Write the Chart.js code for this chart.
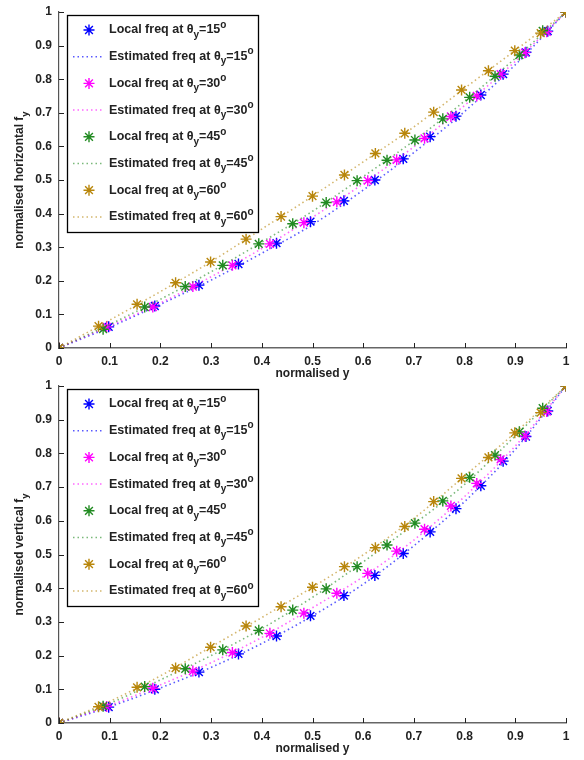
<!DOCTYPE html>
<html>
<head>
<meta charset="utf-8">
<script src="https://cdn.jsdelivr.net/npm/chart.js@4.4.0/dist/chart.umd.min.js"></script>
<style>
  body { margin: 0; background: #fff; }
  #wrap { position: relative; width: 584px; height: 760px; }
  canvas { position: absolute; left: 0; }
</style>
</head>
<body>
<div id="wrap">
  <canvas id="g1" width="584" height="382" style="top:0"></canvas>
  <canvas id="g2" width="584" height="390" style="top:370px"></canvas>
</div>
<script>
// angles of the series
var angles = ['15', '30', '45', '60'];
var colors = ['#0000ff', '#ff00ff', '#228b22', '#b8860b'];
var estColors = ['rgba(0,0,255,0.65)', 'rgba(255,0,255,0.6)', 'rgba(34,139,34,0.6)', 'rgba(184,134,11,0.6)'];

// x positions of the local freq points (normalised y), same for both plots
var x15 = [0, 0.098, 0.189, 0.276, 0.354, 0.429, 0.496, 0.562, 0.623, 0.679, 0.732, 0.783, 0.832, 0.876, 0.921, 0.964, 1];
var x30 = [0, 0.094, 0.185, 0.264, 0.342, 0.416, 0.483, 0.548, 0.609, 0.666, 0.721, 0.773, 0.824, 0.871, 0.919, 0.962, 1];
var x45 = [0, 0.087, 0.169, 0.249, 0.323, 0.394, 0.461, 0.527, 0.588, 0.647, 0.702, 0.757, 0.810, 0.860, 0.908, 0.954, 1];
var x60 = [0, 0.078, 0.154, 0.230, 0.299, 0.369, 0.438, 0.500, 0.563, 0.624, 0.682, 0.739, 0.794, 0.847, 0.899, 0.950, 1];

// top plot: normalised horizontal f_y
var h15 = [0, 0.063, 0.125, 0.187, 0.250, 0.312, 0.376, 0.438, 0.500, 0.563, 0.629, 0.690, 0.753, 0.815, 0.880, 0.943, 1];
var h30 = [0, 0.063, 0.122, 0.183, 0.246, 0.310, 0.373, 0.435, 0.498, 0.560, 0.624, 0.689, 0.750, 0.815, 0.879, 0.941, 1];
var h45 = [0, 0.056, 0.122, 0.183, 0.246, 0.310, 0.370, 0.433, 0.498, 0.559, 0.619, 0.682, 0.746, 0.809, 0.872, 0.944, 1];
var h60 = [0, 0.065, 0.130, 0.194, 0.256, 0.324, 0.391, 0.452, 0.515, 0.579, 0.639, 0.702, 0.768, 0.825, 0.885, 0.937, 1];

// bottom plot: normalised vertical f_y
var v15 = [0, 0.047, 0.100, 0.151, 0.205, 0.258, 0.318, 0.378, 0.438, 0.503, 0.567, 0.636, 0.704, 0.777, 0.850, 0.926, 1];
var v30 = [0, 0.049, 0.103, 0.154, 0.209, 0.266, 0.326, 0.385, 0.444, 0.510, 0.575, 0.644, 0.711, 0.782, 0.852, 0.924, 1];
var v45 = [0, 0.050, 0.108, 0.161, 0.217, 0.275, 0.335, 0.398, 0.464, 0.528, 0.593, 0.659, 0.729, 0.795, 0.864, 0.934, 1];
var v60 = [0, 0.048, 0.106, 0.163, 0.225, 0.288, 0.345, 0.403, 0.464, 0.520, 0.583, 0.657, 0.726, 0.788, 0.861, 0.921, 1];

// estimated freq curves, read at these x
var estX = [0, 0.1, 0.2, 0.3, 0.4, 0.5, 0.6, 0.7, 0.8, 0.9, 1];
var eh15 = [0, 0.062, 0.130, 0.202, 0.282, 0.367, 0.470, 0.582, 0.704, 0.843, 1];
var eh30 = [0, 0.066, 0.134, 0.212, 0.296, 0.389, 0.489, 0.599, 0.722, 0.853, 1];
var eh45 = [0, 0.070, 0.145, 0.227, 0.315, 0.407, 0.510, 0.617, 0.735, 0.862, 1];
var eh60 = [0, 0.083, 0.168, 0.257, 0.354, 0.452, 0.554, 0.658, 0.773, 0.886, 1];
var ev15 = [0, 0.048, 0.104, 0.165, 0.236, 0.318, 0.412, 0.526, 0.657, 0.812, 1];
var ev30 = [0, 0.052, 0.113, 0.179, 0.254, 0.342, 0.434, 0.543, 0.672, 0.822, 1];
var ev45 = [0, 0.058, 0.128, 0.200, 0.280, 0.373, 0.478, 0.590, 0.708, 0.852, 1];
var ev60 = [0, 0.064, 0.140, 0.226, 0.313, 0.403, 0.499, 0.607, 0.733, 0.862, 1];

var FONT = '"Liberation Sans", Arial, Helvetica, sans-serif';
Chart.defaults.font.family = FONT;

function pts(xs, ys) {
    return xs.map(function(x, j) { return {x: x, y: ys[j]}; });
}

// text with sub/superscript pieces
function setFont(ctx, p, size) {
    ctx.font = 'bold ' + (p.s ? size - 2.5 : size) + 'px ' + FONT;
}
function richWidth(ctx, parts, size) {
    var w = 0;
    parts.forEach(function(p) {
        setFont(ctx, p, size);
        w += ctx.measureText(p.t).width;
    });
    return w;
}
function drawRich(ctx, x, y, parts, size) {
    parts.forEach(function(p) {
        setFont(ctx, p, size);
        var dy = p.s === 'sub' ? 5 : (p.s === 'sup' ? -5 : 0);
        ctx.fillText(p.t, x, y + dy);
        x += ctx.measureText(p.t).width;
    });
}

function drawStar(ctx, x, y, r, color) {
    ctx.save();
    ctx.strokeStyle = color;
    ctx.lineWidth = 1.4;
    ctx.beginPath();
    for (var k = 0; k < 4; k++) {
        var a = k * Math.PI / 4;
        ctx.moveTo(x - r * Math.cos(a), y - r * Math.sin(a));
        ctx.lineTo(x + r * Math.cos(a), y + r * Math.sin(a));
    }
    ctx.stroke();
    ctx.restore();
}

var decor = {
    id: 'decor',
    afterDraw: function(chart, args, opts) {
        var ctx = chart.ctx, ca = chart.chartArea;
        var xs = chart.scales.x, ys = chart.scales.y;
        ctx.save();
        // inward ticks
        ctx.strokeStyle = '#222';
        ctx.lineWidth = 1;
        ctx.beginPath();
        xs.ticks.forEach(function(t) {
            var p = Math.round(xs.getPixelForValue(t.value)) + 0.5;
            ctx.moveTo(p, ca.bottom);
            ctx.lineTo(p, ca.bottom - 5);
        });
        ys.ticks.forEach(function(t) {
            var p = Math.round(ys.getPixelForValue(t.value)) + 0.5;
            ctx.moveTo(ca.left, p);
            ctx.lineTo(ca.left + 5, p);
        });
        ctx.stroke();

        // axis titles
        ctx.fillStyle = '#222';
        ctx.textBaseline = 'middle';
        ctx.textAlign = 'left';
        var xt = [{t: 'normalised y'}];
        drawRich(ctx, (ca.left + ca.right) / 2 - richWidth(ctx, xt, 12) / 2, ca.bottom + 26, xt, 12);
        var yt = [{t: opts.yTitle}, {t: 'y', s: 'sub'}];
        ctx.save();
        ctx.translate(20, (ca.top + ca.bottom) / 2);
        ctx.rotate(-Math.PI / 2);
        drawRich(ctx, -richWidth(ctx, yt, 12) / 2, 0, yt, 12);
        ctx.restore();

        // legend box
        var bx = ca.left + 8, by = ca.top + 3, bw = 191, bh = 217;
        ctx.fillStyle = '#fff';
        ctx.fillRect(bx, by, bw, bh);
        ctx.strokeStyle = '#000';
        ctx.lineWidth = 1.3;
        ctx.strokeRect(bx + 0.5, by + 0.5, bw, bh);
        for (var i = 0; i < angles.length; i++) {
            var y1 = by + 15 + i * 2 * 26.7, y2 = y1 + 26.7;
            drawStar(ctx, bx + 22, y1, 5.5, colors[i]);
            ctx.save();
            ctx.strokeStyle = estColors[i];
            ctx.lineWidth = 1.5;
            ctx.setLineDash([1.5, 3]);
            ctx.beginPath();
            ctx.moveTo(bx + 6, y2);
            ctx.lineTo(bx + 37, y2);
            ctx.stroke();
            ctx.restore();
            ctx.fillStyle = '#222';
            drawRich(ctx, bx + 42, y1, [{t: 'Local freq at \u03b8'}, {t: 'y', s: 'sub'}, {t: '=' + angles[i]}, {t: 'o', s: 'sup'}], 12.5);
            drawRich(ctx, bx + 42, y2, [{t: 'Estimated freq at \u03b8'}, {t: 'y', s: 'sub'}, {t: '=' + angles[i]}, {t: 'o', s: 'sup'}], 12.5);
        }
        ctx.restore();
    }
};

function makeChart(id, xsets, locals, ests, yTitle, top, bottom, height) {
    var datasets = [];
    for (var i = 0; i < angles.length; i++) {
        datasets.push({
            label: 'Local freq at ' + angles[i],
            data: pts(xsets[i], locals[i]),
            showLine: false,
            pointStyle: 'star',
            pointRadius: 5.5,
            pointBorderWidth: 1.4,
            borderColor: colors[i],
            backgroundColor: colors[i],
            order: 10 - 2 * i
        });
        datasets.push({
            label: 'Estimated freq at ' + angles[i],
            data: pts(estX, ests[i]),
            showLine: true,
            pointRadius: 0,
            borderColor: estColors[i],
            borderWidth: 1.6,
            borderDash: [1.5, 3],
            cubicInterpolationMode: 'monotone',
            order: 11 - 2 * i
        });
    }
    var tickFont = {size: 12, weight: 'bold'};
    return new Chart(document.getElementById(id), {
        type: 'scatter',
        data: {datasets: datasets},
        options: {
            responsive: false,
            animation: false,
            layout: {padding: {left: 0, right: 18, top: top, bottom: 0}},
            plugins: {
                legend: {display: false},
                tooltip: {enabled: false},
                decor: {yTitle: yTitle}
            },
            scales: {
                x: {
                    type: 'linear', min: 0, max: 1,
                    grid: {display: false, drawTicks: false},
                    border: {display: true, color: '#666', width: 1.6},
                    ticks: {stepSize: 0.1, padding: 6, color: '#222', font: tickFont, maxRotation: 0,
                        callback: function(v) { return +v.toFixed(1); }},
                    afterFit: function(s) { s.height = height - bottom; s.paddingLeft = 0; s.paddingRight = 0; }
                },
                y: {
                    type: 'linear', min: 0, max: 1,
                    grid: {display: false, drawTicks: false},
                    border: {display: true, color: '#555', width: 1.2},
                    ticks: {stepSize: 0.1, padding: 7, color: '#222', font: tickFont,
                        callback: function(v) { return +v.toFixed(1); }},
                    afterFit: function(s) { s.width = 59; s.paddingTop = 0; s.paddingBottom = 0; }
                }
            }
        },
        plugins: [decor]
    });
}

var xsets = [x15, x30, x45, x60];
makeChart('g1', xsets, [h15, h30, h45, h60], [eh15, eh30, eh45, eh60], 'normalised horizontal f', 12, 348, 382);
makeChart('g2', xsets, [v15, v30, v45, v60], [ev15, ev30, ev45, ev60], 'normalised vertical f', 16, 353, 390);
</script>
</body>
</html>
